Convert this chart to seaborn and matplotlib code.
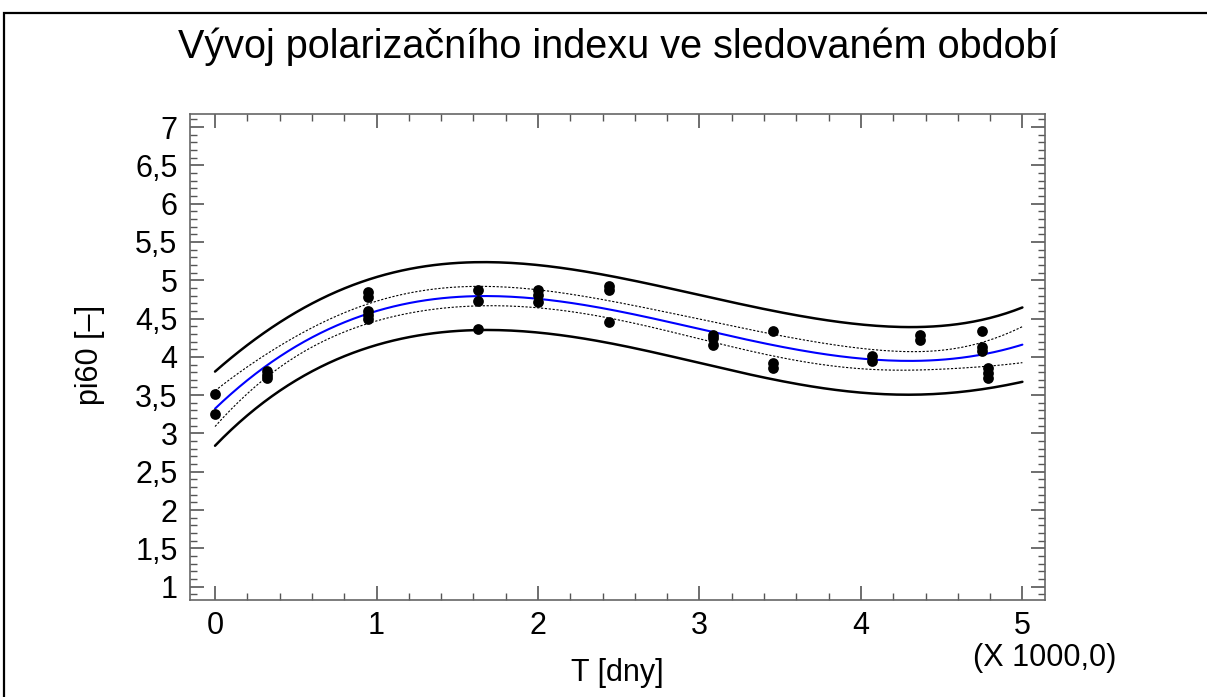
import numpy as np
import pandas as pd
import matplotlib
matplotlib.use("Agg")
import matplotlib.pyplot as plt
import seaborn as sns
from matplotlib.ticker import MultipleLocator, FuncFormatter
from matplotlib.patches import Rectangle

# measured values (T in thousands of days, pi60)
t_days = [0.0, 0.0,
          0.32, 0.32, 0.32,
          0.946, 0.946, 0.946, 0.946, 0.946,
          1.628, 1.628, 1.628,
          2.003, 2.003, 2.003,
          2.437, 2.437, 2.437,
          3.087, 3.087, 3.087,
          3.455, 3.455, 3.455,
          4.069, 4.069,
          4.368, 4.368,
          4.75, 4.75, 4.75,
          4.785, 4.785, 4.785]
pi60 = [3.52, 3.26,
        3.82, 3.76, 3.72,
        4.84, 4.78, 4.60, 4.55, 4.49,
        4.87, 4.73, 4.36,
        4.87, 4.81, 4.71,
        4.92, 4.87, 4.45,
        4.29, 4.24, 4.16,
        4.34, 3.92, 3.85,
        4.01, 3.95,
        4.29, 4.22,
        4.34, 4.13, 4.08,
        3.85, 3.79, 3.72]

df = pd.DataFrame({"T": t_days, "pi60": pi60})

# cubic polynomial fit with 95 % confidence and prediction limits
x = np.array(t_days)
y = np.array(pi60)
X = np.vander(x, 4)
beta, *_ = np.linalg.lstsq(X, y, rcond=None)
resid = y - X @ beta
n, p = X.shape
s2 = resid @ resid / (n - p)
XtX_inv = np.linalg.inv(X.T @ X)
t_crit = 2.04

xg = np.linspace(0, 5, 200)
Xg = np.vander(xg, 4)
fit = Xg @ beta
h = np.einsum("ij,jk,ik->i", Xg, XtX_inv, Xg)
ci = t_crit * np.sqrt(s2 * h)
pi = t_crit * np.sqrt(s2 * (1 + h))
df_fit = pd.DataFrame({"T": xg, "fit": fit,
                       "ci_lo": fit - ci, "ci_hi": fit + ci,
                       "pi_lo": fit - pi, "pi_hi": fit + pi})

sns.set_theme(style="ticks")
plt.rcParams["font.family"] = ["Liberation Sans", "DejaVu Sans"]
plt.rcParams["text.color"] = "black"
plt.rcParams["xtick.labelcolor"] = "black"
plt.rcParams["ytick.labelcolor"] = "black"

fig = plt.figure(figsize=(12.07, 6.97), dpi=100)
ax = fig.add_axes([190 / 1207, 1 - 600 / 697, (1045 - 190) / 1207, (600 - 114) / 697])

for col in ["pi_lo", "pi_hi"]:
    sns.lineplot(data=df_fit, x="T", y=col, color="black", linewidth=1.8, ax=ax)
for col in ["ci_lo", "ci_hi"]:
    sns.lineplot(data=df_fit, x="T", y=col, color="black", linewidth=0.8,
                 linestyle=(0, (2, 1.5)), ax=ax)
sns.lineplot(data=df_fit, x="T", y="fit", color="#0000ff", linewidth=1.5, ax=ax)
sns.scatterplot(data=df, x="T", y="pi60", color="black", s=60, edgecolor="black",
                linewidth=0, ax=ax, zorder=5)

ax.set_xlim(-0.155, 5.14)
ax.set_ylim(0.826, 7.17)
ax.xaxis.set_major_locator(MultipleLocator(1))
ax.xaxis.set_minor_locator(MultipleLocator(0.2))
ax.yaxis.set_major_locator(MultipleLocator(0.5))
ax.yaxis.set_minor_locator(MultipleLocator(0.1))
comma = FuncFormatter(lambda v, pos: ("%g" % v).replace(".", ","))
ax.xaxis.set_major_formatter(comma)
ax.yaxis.set_major_formatter(comma)
ax.tick_params(which="both", direction="in", top=True, right=True,
               color="#555555", labelsize=22)
ax.tick_params(axis="x", pad=8)
ax.tick_params(axis="y", pad=9)
ax.tick_params(which="major", length=10, width=1.2)
ax.tick_params(which="minor", length=5, width=1.0)
for sp in ax.spines.values():
    sp.set_color("#666666")
    sp.set_linewidth(1.2)

ax.set_xlabel("")
ax.set_ylabel("")
fig.text(618 / 1207, 1 - 47 / 697, "Vývoj polarizačního indexu ve sledovaném období",
         ha="center", va="center", fontsize=28.5)
fig.text(90 / 1207, 1 - 355 / 697, "pi60 [–]", rotation=90,
         ha="center", va="center", fontsize=22)
fig.text(617 / 1207, 1 - 673 / 697, "T [dny]", ha="center", va="center", fontsize=22)
fig.text(1045 / 1207, 1 - 658 / 697, "(X 1000,0)", ha="center", va="center", fontsize=22)

fig.patches.append(Rectangle((4 / 1207, -0.05), 1.2, 1 - 13 / 697 + 0.05,
                             transform=fig.transFigure, fill=False,
                             edgecolor="black", linewidth=1.6))

fig.savefig("out.png", dpi=100)
